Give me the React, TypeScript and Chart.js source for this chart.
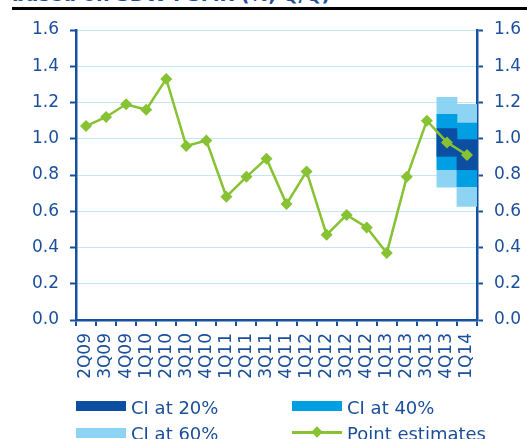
import React, { useEffect, useRef } from "react";
import { Chart, registerables } from "chart.js";

Chart.register(...registerables);

const categories = [
  "2Q09", "3Q09", "4Q09",
  "1Q10", "2Q10", "3Q10", "4Q10",
  "1Q11", "2Q11", "3Q11", "4Q11",
  "1Q12", "2Q12", "3Q12", "4Q12",
  "1Q13", "2Q13", "3Q13", "4Q13",
  "1Q14",
];

const pointEstimates = [
  1.07, 1.12, 1.19,
  1.16, 1.33, 0.96, 0.99,
  0.68, 0.79, 0.89, 0.64,
  0.82, 0.47, 0.58, 0.51,
  0.37, 0.79, 1.10, 0.98,
  0.91,
];

const fanCategories = ["4Q13", "1Q14"];
const ci20 = [[0.903, 1.056], [0.829, 0.995]];
const ci40 = [[0.829, 1.135], [0.736, 1.087]];
const ci60 = [[0.733, 1.228], [0.626, 1.19]];

const yTicks = [0, 0.2, 0.4, 0.6, 0.8, 1.0, 1.2, 1.4, 1.6];

const titleText = "based on SDW PSMR (%, Q/Q)";
const legendLabels = ["CI at 20%", "CI at 40%", "CI at 60%", "Point estimates"];

const AXIS = "#1651a0";
const TEXT = "#1b4f9c";
const GRID = "#c3e5f6";
const C20 = "#0b4ea2";
const C40 = "#009fe3";
const C60 = "#8cd3f4";
const GREEN = "#86c232";
const FONT = "'DejaVu Sans', sans-serif";

function fanData(ranges: number[][]) {
  return categories.map((c) => {
    const i = fanCategories.indexOf(c);
    return i >= 0 ? ranges[i] : null;
  });
}

export default function App() {
  const ref = useRef<HTMLCanvasElement>(null);

  useEffect(() => {
    if (!ref.current) return;
    const barCommon = {
      type: "bar" as const,
      grouped: false,
      barPercentage: 1,
      categoryPercentage: 1,
      borderWidth: 0,
      yAxisID: "y",
    };
    const chart = new Chart(ref.current, {
      type: "bar",
      data: {
        labels: categories,
        datasets: [
          {
            type: "line",
            label: legendLabels[3],
            data: pointEstimates,
            borderColor: GREEN,
            backgroundColor: GREEN,
            borderWidth: 2.5,
            pointStyle: "rectRot",
            pointRadius: 6,
            pointBorderWidth: 0,
            pointBackgroundColor: GREEN,
            tension: 0,
            yAxisID: "y",
          } as any,
          { ...barCommon, label: legendLabels[0], data: fanData(ci20), backgroundColor: C20 } as any,
          { ...barCommon, label: legendLabels[1], data: fanData(ci40), backgroundColor: C40 } as any,
          { ...barCommon, label: legendLabels[2], data: fanData(ci60), backgroundColor: C60 } as any,
        ],
      },
      options: {
        animation: false,
        responsive: false,
        maintainAspectRatio: false,
        layout: { padding: { top: 30, left: 0, right: 0, bottom: 0 } },
        plugins: { legend: { display: false }, tooltip: { enabled: false } },
        scales: {
          x: {
            type: "category",
            offset: true,
            grid: {
              display: true,
              offset: true,
              drawOnChartArea: false,
              drawTicks: true,
              tickLength: 6,
              color: AXIS,
              lineWidth: 2,
            },
            border: { display: true, color: AXIS, width: 2.5 },
            ticks: {
              color: TEXT,
              font: { family: FONT, size: 17 },
              minRotation: 90,
              maxRotation: 90,
              autoSkip: false,
              padding: 7,
            },
            afterFit: (s: any) => {
              s.height = 80;
            },
          },
          y: {
            position: "left",
            min: 0,
            max: 1.6,
            afterBuildTicks: (s: any) => {
              s.ticks = yTicks.map((v) => ({ value: v }));
            },
            grid: {
              color: GRID,
              lineWidth: 1,
              drawTicks: true,
              tickLength: 6,
              tickColor: AXIS,
              tickWidth: 2,
            },
            border: { display: true, color: AXIS, width: 2.5 },
            ticks: {
              color: TEXT,
              font: { family: FONT, size: 17 },
              padding: 11,
              callback: (v: any) => Number(v).toFixed(1),
            },
            afterFit: (s: any) => {
              s.width = 76;
            },
          },
          y2: {
            position: "right",
            min: 0,
            max: 1.6,
            afterBuildTicks: (s: any) => {
              s.ticks = yTicks.map((v) => ({ value: v }));
            },
            grid: {
              drawOnChartArea: false,
              drawTicks: true,
              tickLength: 6,
              color: AXIS,
              tickColor: AXIS,
              tickWidth: 2,
            },
            border: { display: true, color: AXIS, width: 2.5 },
            ticks: {
              color: TEXT,
              font: { family: FONT, size: 17 },
              padding: 11,
              callback: (v: any) => Number(v).toFixed(1),
            },
            afterFit: (s: any) => {
              s.width = 50;
            },
          },
        },
      } as any,
    });
    return () => chart.destroy();
  }, []);

  const txt: React.CSSProperties = {
    position: "absolute",
    fontFamily: FONT,
    fontSize: 18,
    lineHeight: "20px",
    color: TEXT,
    whiteSpace: "nowrap",
  };
  const box = (left: number, top: number, color: string): React.CSSProperties => ({
    position: "absolute",
    left,
    top,
    width: 50,
    height: 10,
    background: color,
  });

  return (
    <div
      style={{
        position: "fixed",
        left: 0,
        top: 0,
        width: 527,
        height: 439,
        overflow: "hidden",
        background: "#fff",
      }}
    >
      <div
        style={{
          ...txt,
          left: 12,
          top: -16,
          fontWeight: "bold",
          fontSize: 19,
        }}
      >
        {titleText}
      </div>
      <div
        style={{
          position: "absolute",
          left: 12,
          top: 7,
          width: 515,
          height: 3,
          background: "#000",
        }}
      />
      <canvas
        ref={ref}
        width={527}
        height={400}
        style={{ position: "absolute", left: 0, top: 0, width: 527, height: 400 }}
      />
      <div style={box(76, 401, C20)} />
      <div style={{ ...txt, left: 131, top: 398 }}>{legendLabels[0]}</div>
      <div style={box(292, 401, C40)} />
      <div style={{ ...txt, left: 347, top: 398 }}>{legendLabels[1]}</div>
      <div style={box(76, 428, C60)} />
      <div style={{ ...txt, left: 131, top: 424 }}>{legendLabels[2]}</div>
      <div
        style={{
          position: "absolute",
          left: 292,
          top: 431,
          width: 50,
          height: 2.5,
          background: GREEN,
        }}
      />
      <div
        style={{
          position: "absolute",
          left: 313,
          top: 428,
          width: 8,
          height: 8,
          background: GREEN,
          transform: "rotate(45deg)",
        }}
      />
      <div style={{ ...txt, left: 347, top: 424 }}>{legendLabels[3]}</div>
    </div>
  );
}
